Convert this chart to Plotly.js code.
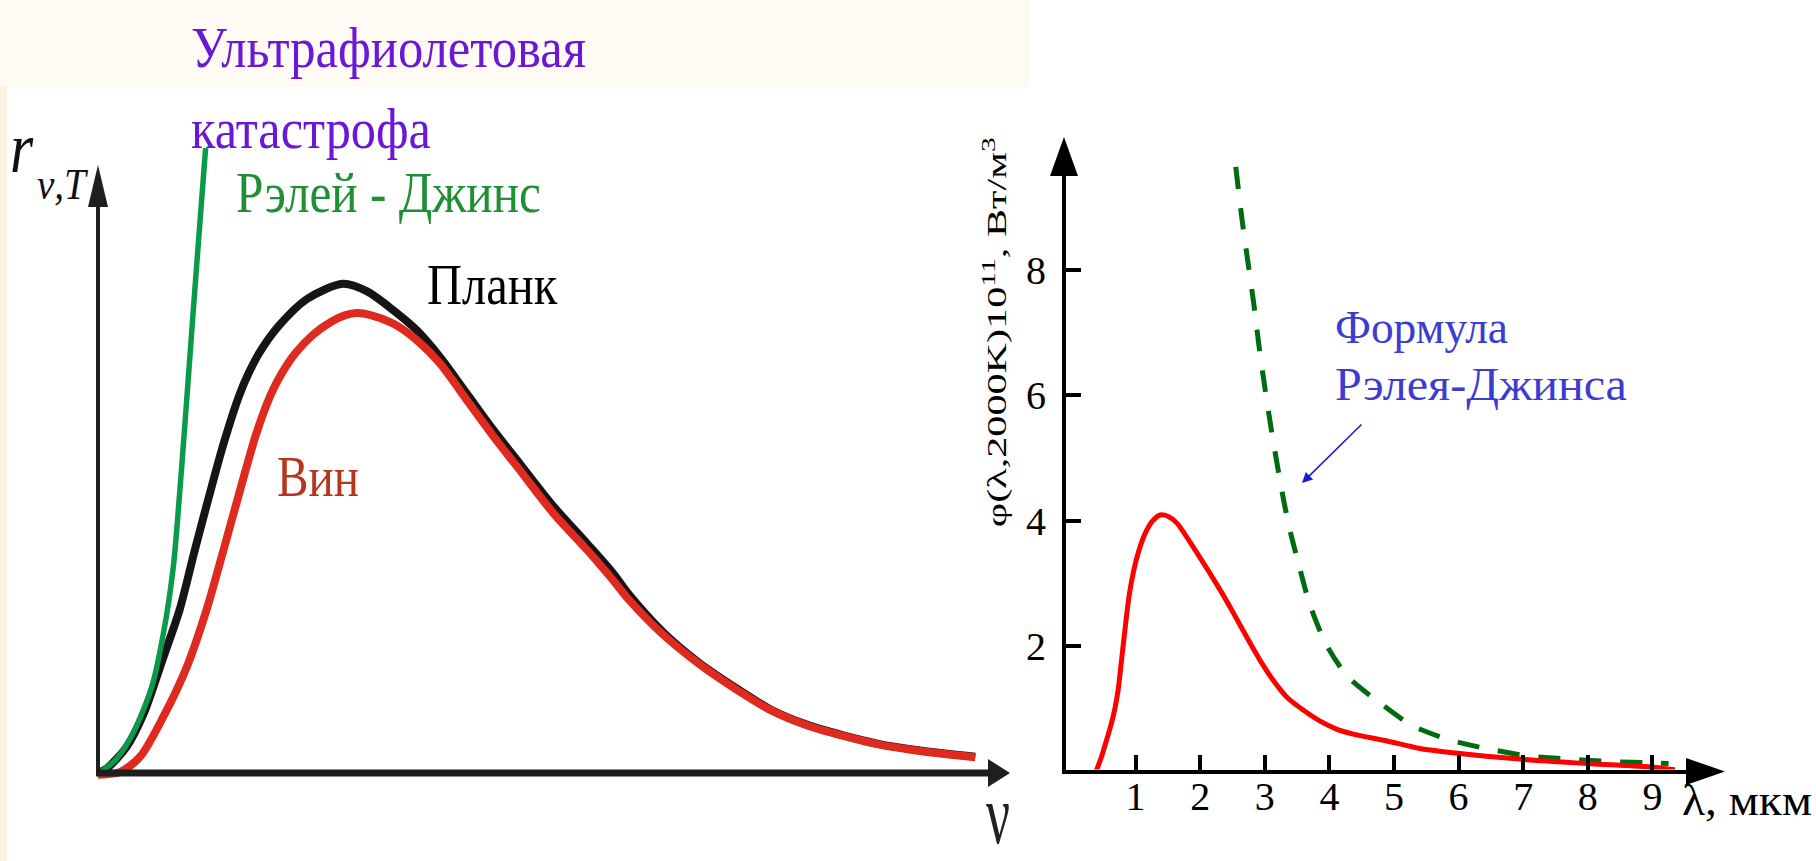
<!DOCTYPE html>
<html>
<head>
<meta charset="utf-8">
<script src="https://cdn.plot.ly/plotly-3.0.1.min.js"></script>
<style>
html,body{margin:0;padding:0;background:#ffffff;}
#chart{width:1816px;height:861px;}
</style>
</head>
<body>
<div id="chart"></div>
<script>
// ---------- DATA ----------
// Left schematic: spectral density r(nu,T), arbitrary units
const nuRayleigh = [0, 0.06, 0.21, 0.39, 0.60, 0.73, 0.84, 0.90, 0.96, 1.02, 1.08, 1.14, 1.20];
const rRayleigh  = [0, 0.05, 0.25, 0.68, 1.48, 2.40, 3.54, 4.60, 5.80, 7.05, 8.30, 9.52, 10.72];

const nuPlanck = [0, 0.10, 0.32, 0.51, 0.73, 0.91, 1.08, 1.23, 1.40, 1.58, 1.68, 1.80, 2.01, 2.33, 2.73, 3.00, 3.29, 3.55, 3.81, 4.11, 4.41, 4.70, 5.08, 5.45, 5.74, 5.92, 6.31, 6.71, 7.11, 7.51, 7.90, 8.30, 8.70, 9.10, 9.78];
const rPlanck  = [0, 0.08, 0.45, 1.02, 1.99, 2.80, 3.83, 4.70, 5.65, 6.50, 6.86, 7.21, 7.66, 8.13, 8.39, 8.26, 7.94, 7.60, 7.14, 6.51, 5.88, 5.31, 4.57, 3.94, 3.43, 3.06, 2.40, 1.88, 1.46, 1.08, 0.83, 0.65, 0.50, 0.40, 0.28];

const nuWien = [0, 0.25, 0.47, 0.73, 0.99, 1.21, 1.40, 1.56, 1.75, 1.85, 1.95, 2.05, 2.20, 2.40, 2.60, 2.75, 2.89, 3.03, 3.29, 3.55, 3.81, 4.11, 4.41, 4.70, 5.08, 5.45, 5.74, 5.92, 6.31, 6.71, 7.11, 7.51, 7.90, 8.30, 8.70, 9.10, 9.78];
const rWien  = [-0.03, 0.02, 0.28, 0.97, 1.82, 2.80, 3.83, 4.72, 5.75, 6.20, 6.57, 6.86, 7.20, 7.52, 7.74, 7.85, 7.89, 7.86, 7.71, 7.43, 7.03, 6.40, 5.77, 5.20, 4.45, 3.83, 3.31, 2.97, 2.36, 1.86, 1.44, 1.07, 0.82, 0.64, 0.49, 0.39, 0.27];

// Right chart: phi(lambda, 2000K) * 1e11, W/m^3 ; lambda in micrometres
const lamPlanck = [0.39, 0.47, 0.55, 0.62, 0.68, 0.73, 0.78, 0.84, 0.90, 0.97, 1.05, 1.15, 1.26, 1.38, 1.50, 1.64, 1.94, 2.31, 2.50, 2.72, 2.92, 3.13, 3.35, 3.60, 3.85, 4.11, 4.37, 4.89, 5.40, 6.02, 6.95, 7.98, 9.01, 9.35];
const phiPlanck = [0, 0.22, 0.49, 0.74, 1.00, 1.30, 1.75, 2.30, 2.80, 3.20, 3.52, 3.80, 3.99, 4.09, 4.07, 3.96, 3.50, 2.89, 2.55, 2.14, 1.78, 1.45, 1.17, 0.97, 0.80, 0.67, 0.59, 0.48, 0.36, 0.28, 0.19, 0.12, 0.06, 0.02];

const lamRJ = [2.55, 2.65, 2.74, 2.83, 2.91, 3.00, 3.10, 3.20, 3.30, 3.40, 3.50, 3.69, 3.94, 4.28, 4.79, 5.29, 5.85, 6.42, 7.08, 7.71, 8.37, 9.01, 9.25];
const phiRJ = [9.65, 8.79, 8.12, 7.46, 6.79, 6.13, 5.46, 4.85, 4.28, 3.80, 3.40, 2.68, 2.04, 1.51, 1.08, 0.72, 0.50, 0.36, 0.24, 0.19, 0.15, 0.13, 0.12];

const xTickVals = [1, 2, 3, 4, 5, 6, 7, 8, 9];
const xTickText = ['1', '2', '3', '4', '5', '6', '7', '8', '9'];
const yTickVals = [2, 4, 6, 8];
const yTickText = ['2', '4', '6', '8'];

// ---------- LAYOUT GEOMETRY (pixels) ----------
const W = 1816, H = 861;
const px = x => x / W;
const py = y => 1 - y / H;
const P = (x, y) => px(x).toFixed(5) + ',' + py(y).toFixed(5);

// left axes mapping
const L = {x0: 98, xu: 89.7, y0: 773, yu: 58.3, right: 1000, top: 131.7, bottom: 784.7};
// right axes mapping
const R = {x0: 1071, xu: 64.6, y0: 771, yu: 62.6, left: 1066, right: 1712, top: 150, bottom: 769.5};

const SERIF = 'Liberation Serif, DejaVu Serif, serif';
const purple = '#6a18d6', greenTxt = '#1f8f35', wienTxt = '#b5361f', blueTxt = '#3c3cd2';

const traces = [
  {x: nuPlanck, y: rPlanck, xaxis: 'x', yaxis: 'y', mode: 'lines',
   line: {color: '#151515', width: 8, shape: 'spline', smoothing: 0.8}, hoverinfo: 'skip'},
  {x: nuRayleigh, y: rRayleigh, xaxis: 'x', yaxis: 'y', mode: 'lines',
   line: {color: '#0a9a4c', width: 5.5, shape: 'spline', smoothing: 0.8}, hoverinfo: 'skip'},
  {x: nuWien, y: rWien, xaxis: 'x', yaxis: 'y', mode: 'lines',
   line: {color: '#df2a20', width: 8, shape: 'spline', smoothing: 0.8}, hoverinfo: 'skip'},
  {x: lamRJ, y: phiRJ, xaxis: 'x2', yaxis: 'y2', mode: 'lines',
   line: {color: '#006b0f', width: 5, dash: '22px,19px', shape: 'spline', smoothing: 0.7}, hoverinfo: 'skip'},
  {x: lamPlanck, y: phiPlanck, xaxis: 'x2', yaxis: 'y2', mode: 'lines',
   line: {color: '#ff0000', width: 5, shape: 'spline', smoothing: 0.7}, hoverinfo: 'skip'}
];

// ---------- TEXT ----------
const annotations = [];
const stretch = [];
function addText(text, xp, yp, o, st) {
  annotations.push(Object.assign({
    text: text, xref: 'paper', yref: 'paper', x: px(xp), y: py(yp),
    xanchor: 'left', yanchor: 'middle', showarrow: false,
    font: {family: SERIF, size: o.size, color: o.color || '#000'}
  }, o.extra || {}));
  stretch.push(st || null);
}
const FS = 58, k = 0.34;
addText('Ультрафиолетовая', 189, 67 - k * FS, {size: FS, color: purple}, {w: 395, a: 'left'});
addText('катастрофа', 189, 148 - k * FS, {size: FS, color: purple}, {w: 240, a: 'left'});
addText('Рэлей - Джинс', 234, 212 - k * FS, {size: FS, color: greenTxt}, {w: 305, a: 'left'});
addText('Планк', 425, 304 - k * FS, {size: FS, color: '#000'}, {w: 131, a: 'left'});
addText('Вин', 275, 496 - k * FS, {size: FS, color: wienTxt}, {w: 82, a: 'left'});
addText('<i>r</i>', 8, 172 - k * 72, {size: 72, color: '#111'}, {w: 24, a: 'left'});
addText('<i>ν,T</i>', 35, 199 - k * 44, {size: 44, color: '#111'}, {w: 52, a: 'left'});
addText('ν', 998, 843 - k * 84, {size: 84, color: '#222', extra: {xanchor: 'center'}}, {w: 24, a: 'center'});
addText('Формула', 1333, 343 - k * 46, {size: 46, color: blueTxt}, {w: 173, a: 'left'});
addText('Рэлея-Джинса', 1333, 400 - k * 46, {size: 46, color: blueTxt}, {w: 292, a: 'left'});
addText('λ, мкм', 1680, 815 - k * 44, {size: 44, color: '#000'}, {w: 130, a: 'left'});
addText('φ(λ,2000K)10<sup>11</sup>, Вт/м<sup>3</sup>', 995, 332, {size: 27, color: '#000',
  extra: {xanchor: 'center', textangle: -90}}, {w: 390, a: 'center'});
// pointer arrow towards the Rayleigh-Jeans curve
annotations.push({text: '', xref: 'paper', yref: 'paper', x: px(1302), y: py(483),
  ax: 61, ay: -60, showarrow: true, arrowhead: 2, arrowsize: 1.3, arrowwidth: 1.6,
  arrowcolor: '#1c1cd8', standoff: 0});
stretch.push(null);

// ---------- SHAPES (background tint, left axes, arrowheads) ----------
const shapes = [
  {type: 'rect', xref: 'paper', yref: 'paper', x0: px(0), x1: px(1030), y0: py(87), y1: py(0),
   fillcolor: '#fffaf3', line: {width: 0}, layer: 'below'},
  {type: 'rect', xref: 'paper', yref: 'paper', x0: px(0), x1: px(7), y0: py(861), y1: py(87),
   fillcolor: '#fcf0e2', line: {width: 0}, layer: 'below'},
  // left y axis
  {type: 'line', xref: 'paper', yref: 'paper', x0: px(98), x1: px(98), y0: py(775), y1: py(200),
   line: {color: '#1e1e1e', width: 4}},
  {type: 'path', xref: 'paper', yref: 'paper',
   path: 'M' + P(98, 165) + ' L' + P(88, 207) + ' L' + P(108, 207) + ' Z',
   fillcolor: '#1e1e1e', line: {width: 0}},
  // left x axis
  {type: 'line', xref: 'paper', yref: 'paper', x0: px(96), x1: px(995), y0: py(773), y1: py(773),
   line: {color: '#1e1e1e', width: 7}},
  {type: 'path', xref: 'paper', yref: 'paper',
   path: 'M' + P(1010, 773) + ' L' + P(988, 759) + ' L' + P(988, 787) + ' Z',
   fillcolor: '#1e1e1e', line: {width: 0}},
  // right arrowheads
  {type: 'path', xref: 'paper', yref: 'paper',
   path: 'M' + P(1064, 137) + ' L' + P(1050, 176) + ' L' + P(1078, 176) + ' Z',
   fillcolor: '#000', line: {width: 0}},
  {type: 'path', xref: 'paper', yref: 'paper',
   path: 'M' + P(1725, 771.5) + ' L' + P(1686, 758) + ' L' + P(1686, 785) + ' Z',
   fillcolor: '#000', line: {width: 0}}
];

const rightAxisCommon = {
  showline: true, linewidth: 4, linecolor: '#000', ticks: 'inside', ticklen: 15,
  tickwidth: 4, tickcolor: '#000', showgrid: false, zeroline: false,
  tickfont: {family: SERIF, size: 40, color: '#000'}
};

const layout = {
  width: W, height: H, margin: {l: 0, r: 0, t: 0, b: 0},
  paper_bgcolor: '#ffffff', plot_bgcolor: 'rgba(0,0,0,0)',
  showlegend: false, hovermode: false,
  font: {family: SERIF, color: '#000'},
  xaxis: {domain: [px(L.x0), px(L.right)], range: [0, (L.right - L.x0) / L.xu],
          visible: false, fixedrange: true},
  yaxis: {domain: [py(L.bottom), py(L.top)], range: [(L.y0 - L.bottom) / L.yu, (L.y0 - L.top) / L.yu],
          visible: false, fixedrange: true},
  xaxis2: Object.assign({}, rightAxisCommon, {
    anchor: 'y2', domain: [px(R.left), px(R.right)],
    range: [(R.left - R.x0) / R.xu, (R.right - R.x0) / R.xu],
    tickvals: xTickVals, ticktext: xTickText, ticklabelstandoff: -12}),
  yaxis2: Object.assign({}, rightAxisCommon, {
    anchor: 'x2', domain: [py(R.bottom), py(R.top)],
    range: [(R.y0 - R.bottom) / R.yu, (R.y0 - R.top) / R.yu],
    tickvals: yTickVals, ticktext: yTickText, ticklabelstandoff: 8}),
  annotations: annotations,
  shapes: shapes
};

Plotly.newPlot('chart', traces, layout, {staticPlot: true, displayModeBar: false}).then(function (gd) {
  // condense / widen label glyphs to the reference proportions
  gd.querySelectorAll('.annotation').forEach(function (g) {
    const i = +g.getAttribute('data-index');
    const st = stretch[i];
    if (!st) return;
    const t = g.querySelector('text.annotation-text');
    if (!t) return;
    const bb = t.getBBox();
    if (!bb.width) return;
    const s = st.w / bb.width;
    const cx = st.a === 'left' ? bb.x : bb.x + bb.width / 2;
    const prev = t.getAttribute('transform') || '';
    t.setAttribute('transform', (prev + ' translate(' + cx + ',0) scale(' + s + ',1) translate(' + (-cx) + ',0)').trim());
  });
});
</script>
</body>
</html>
